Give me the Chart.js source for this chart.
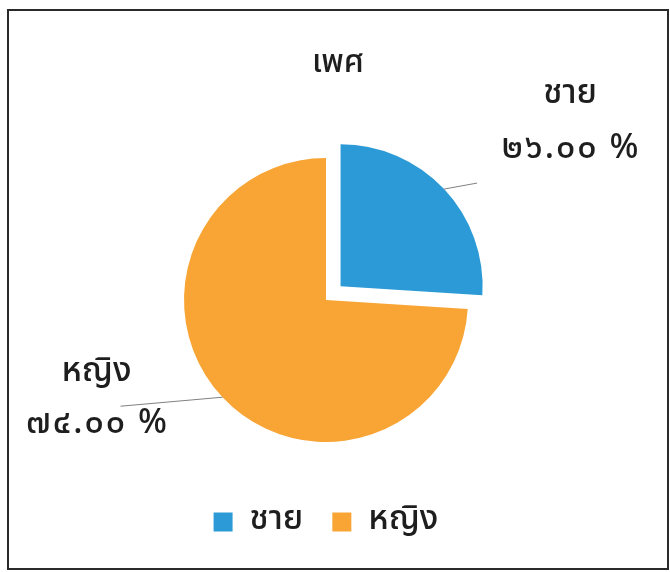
<!DOCTYPE html>
<html>
<head>
<meta charset="utf-8">
<script src="https://cdn.jsdelivr.net/npm/chart.js@4/dist/chart.umd.min.js"></script>
<style>
  html, body { margin: 0; padding: 0; background: #fff; }
  #wrap { position: relative; width: 670px; height: 572px; }
  #frame { position: absolute; left: 7px; top: 9px; width: 658px; height: 557px; border: 2px solid #2a2a2a; pointer-events: none; }
</style>
</head>
<body>
<div id="wrap">
  <canvas id="c" width="670" height="572"></canvas>
  <div id="frame"></div>
</div>
<script>
const chartTitle = 'เพศ';
const categories = ['ชาย', 'หญิง'];
const values = [26, 74];
const colors = ['#2b9ad6', '#f8a535'];
const FONT = '"Noto Sans Thai", "Noto Sans", "DejaVu Sans", sans-serif';

function thaiDigits(s) {
  const d = '๐๑๒๓๔๕๖๗๘๙';
  return s.replace(/[0-9]/g, c => d[+c]);
}

const outLabels = {
  id: 'outLabels',
  afterDatasetsDraw(chart, args, opts) {
    const ctx = chart.ctx;
    const meta = chart.getDatasetMeta(0);
    const ds = chart.data.datasets[0];
    const total = ds.data.reduce((a, b) => a + b, 0);
    meta.data.forEach((arc, i) => {
      const p = arc.getProps(['x', 'y', 'startAngle', 'endAngle', 'outerRadius', 'circumference'], true);
      const off = (arc.options.offset || 0) / 4;
      const fix = 1 - Math.sin(Math.min(Math.PI, p.circumference || 0));
      const shift = off * (1 + fix);
      const mid = (p.startAngle + p.endAngle) / 2;
      const cx = p.x + Math.cos(mid) * shift, cy = p.y + Math.sin(mid) * shift;
      const ex = cx + Math.cos(mid) * p.outerRadius, ey = cy + Math.sin(mid) * p.outerRadius;
      const L = opts.leaders[i];
      const lx = ex + L.dx, ly = ey + L.dy;
      ctx.save();
      ctx.strokeStyle = '#808080';
      ctx.lineWidth = 1;
      ctx.beginPath();
      ctx.moveTo(ex, ey);
      ctx.lineTo(lx, ly);
      ctx.stroke();
      ctx.font = '500 34px ' + FONT;
      ctx.fillStyle = '#1e1e1e';
      ctx.textAlign = 'center';
      ctx.textBaseline = 'middle';
      ctx.fillText(chart.data.labels[i], lx + L.tx, ly + L.ty1);
      ctx.letterSpacing = '2px';
      ctx.fillText(thaiDigits((ds.data[i] / total * 100).toFixed(2)) + ' %', lx + L.tx + 1, ly + L.ty2);
      ctx.restore();
    });
  },
  afterDraw(chart, args, opts) {
    const ctx = chart.ctx;
    ctx.save();
    ctx.font = '500 32px ' + FONT;
    ctx.fillStyle = '#1e1e1e';
    ctx.textAlign = 'center';
    ctx.textBaseline = 'middle';
    ctx.fillText(opts.title, opts.titleX, opts.titleY);
    ctx.restore();
  }
};

new Chart(document.getElementById('c'), {
  type: 'pie',
  data: {
    labels: categories,
    datasets: [{
      data: values,
      backgroundColor: colors,
      borderWidth: 0,
      offset: [80, 0],
      hoverOffset: 0,
      clip: false
    }]
  },
  options: {
    responsive: false,
    animation: false,
    radius: 142,
    layout: { padding: { left: 0, right: 18, top: 124, bottom: 23 } },
    plugins: {
      tooltip: { enabled: false },
      title: { display: false },
      legend: {
        position: 'bottom',
        labels: {
          font: { size: 34, family: FONT, weight: '500' },
          color: '#1e1e1e',
          boxWidth: 19,
          boxHeight: 19,
          padding: 29
        }
      },
      outLabels: {
        title: chartTitle,
        titleX: 338,
        titleY: 66,
        leaders: [
          { dx: 33, dy: -6, tx: 93, ty1: -87, ty2: -32 },
          { dx: -102, dy: 9, tx: -24, ty1: -32, ty2: 20 }
        ]
      }
    }
  },
  plugins: [outLabels]
});
</script>
</body>
</html>
